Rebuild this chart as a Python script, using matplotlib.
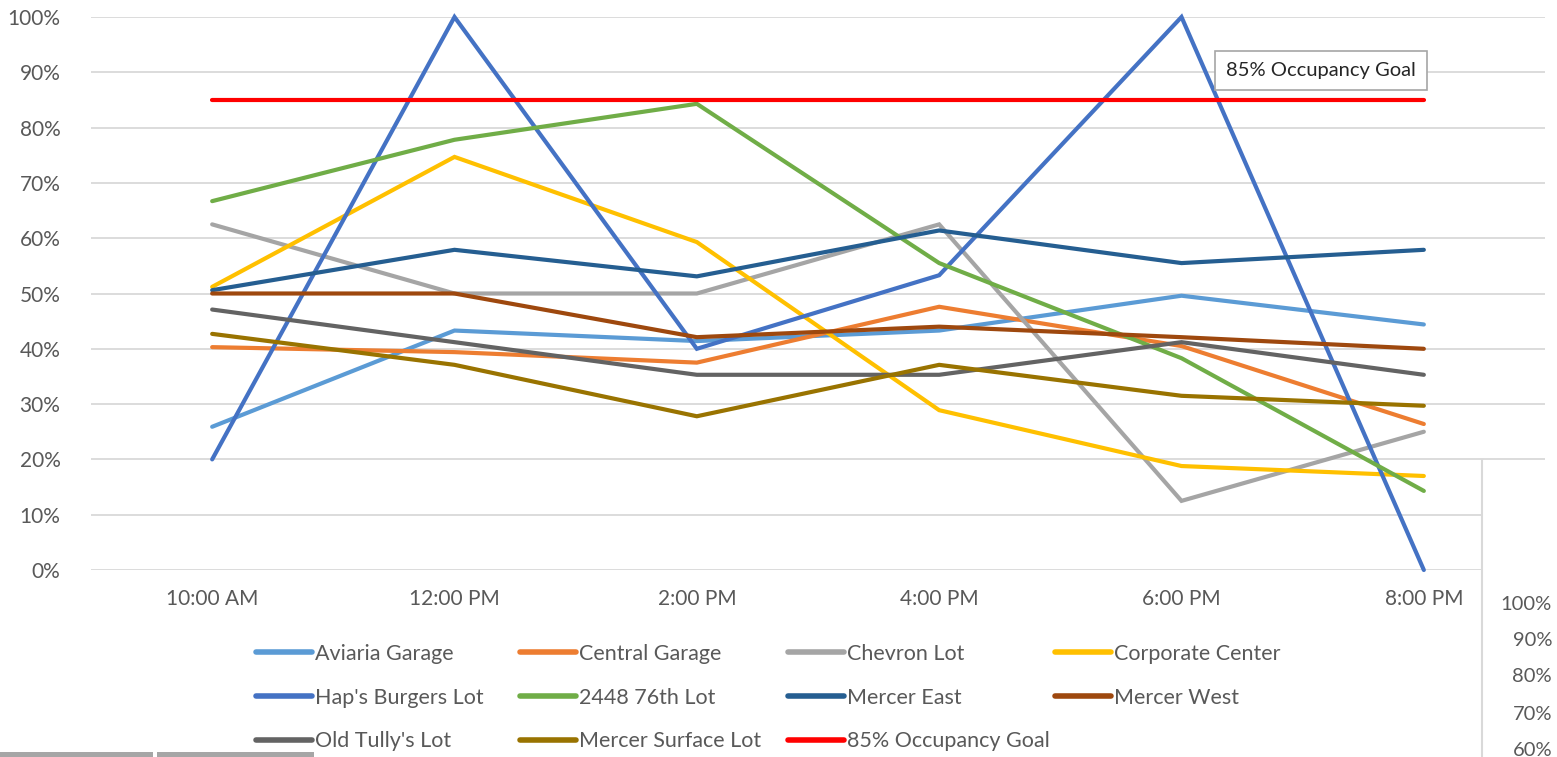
import matplotlib
matplotlib.use("Agg")
import matplotlib.pyplot as plt
from matplotlib.lines import Line2D
from matplotlib.patches import Rectangle
from matplotlib.ticker import PercentFormatter

plt.rcParams['font.family'] = ['Lato', 'DejaVu Sans']

# data
times = ["10:00 AM", "12:00 PM", "2:00 PM", "4:00 PM", "6:00 PM", "8:00 PM"]
aviaria = [0.259, 0.433, 0.414, 0.433, 0.496, 0.444]
central = [0.403, 0.394, 0.375, 0.476, 0.405, 0.264]
chevron = [0.625, 0.50, 0.50, 0.625, 0.125, 0.25]
corporate = [0.512, 0.747, 0.593, 0.289, 0.188, 0.170]
haps = [0.20, 1.00, 0.40, 0.533, 1.00, 0.0]
lot2448 = [0.667, 0.778, 0.843, 0.555, 0.383, 0.143]
mercer_east = [0.506, 0.579, 0.531, 0.614, 0.555, 0.579]
mercer_west = [0.50, 0.50, 0.421, 0.44, 0.421, 0.40]
old_tully = [0.471, 0.412, 0.353, 0.353, 0.412, 0.353]
mercer_surface = [0.427, 0.371, 0.278, 0.371, 0.315, 0.297]
goal = [0.85] * 6

series = [
    ("Aviaria Garage", aviaria, "#5B9BD5"),
    ("Central Garage", central, "#ED7D31"),
    ("Chevron Lot", chevron, "#A5A5A5"),
    ("Corporate Center", corporate, "#FFC000"),
    ("Hap's Burgers Lot", haps, "#4472C4"),
    ("2448 76th Lot", lot2448, "#70AD47"),
    ("Mercer East", mercer_east, "#255E91"),
    ("Mercer West", mercer_west, "#9E480E"),
    ("Old Tully's Lot", old_tully, "#636363"),
    ("Mercer Surface Lot", mercer_surface, "#997300"),
    ("85% Occupancy Goal", goal, "#FF0000"),
]

txt = "#595959"
W, H = 1557, 757
fig = plt.figure(figsize=(W / 100, H / 100), dpi=100)
ax = fig.add_axes([91 / W, 1 - 570 / H, (1545 - 91) / W, (570 - 17) / H])

x = list(range(len(times)))
handles = []
for name, vals, col in series:
    h, = ax.plot(x, vals, color=col, lw=3.0, solid_capstyle='round',
                 solid_joinstyle='miter', label=name)
    handles.append(h)

ax.set_xlim(-0.5, len(times) - 0.5)
ax.set_ylim(0, 1)
ax.set_yticks([i / 10 for i in range(11)])
ax.yaxis.set_major_formatter(PercentFormatter(1.0, decimals=0))
ax.set_xticks(x)
ax.set_xticklabels(times)
ax.grid(axis='y', color='#D9D9D9', lw=1.3)
ax.set_axisbelow(True)
for s in ax.spines.values():
    s.set_visible(False)
ax.tick_params(length=0, labelsize=15, colors=txt, pad=14)
ax.tick_params(axis='y', pad=22)
ax.patch.set_alpha(0)
for h in handles:
    h.set_clip_on(False)

# annotation box
ax.text(4.185, 0.904, "85% Occupancy Goal", fontsize=14.5, color='#262626',
        ha='left', va='center',
        bbox=dict(boxstyle='square,pad=0.55', fc='white', ec='#A6A6A6', lw=1.2))

# legend, laid out in 4 columns like the original
col_x = [256, 520, 788, 1055]
for c in range(4):
    idx = [c + 4 * r for r in range(3) if c + 4 * r < len(series)]
    hs = [Line2D([], [], color=series[i][2], lw=4.0, solid_capstyle='round') for i in idx]
    lb = [series[i][0] for i in idx]
    leg = fig.legend(hs, lb, loc='upper left',
                     bbox_to_anchor=(col_x[c] / W, 1 - 644 / H),
                     frameon=False, fontsize=15.5, handlelength=2.6,
                     handletextpad=0.12, labelspacing=1.1,
                     borderpad=0, borderaxespad=0)
    for t in leg.get_texts():
        t.set_color(txt)

# pieces of the overlapping chart visible at the edges
fig.add_artist(Rectangle((1482 / W, 0), (W - 1482) / W, 1 - 461 / H,
                         transform=fig.transFigure, fc='white', ec='none', zorder=5))
fig.add_artist(Line2D([1482 / W, 1482 / W], [0, 1 - 460 / H],
                      transform=fig.transFigure, color='#D9D9D9', lw=1.5, zorder=6))
for lab, yy in zip(["100%", "90%", "80%", "70%", "60%"], [604, 641, 677, 714, 751]):
    fig.text(1552 / W, 1 - yy / H, lab, ha='right', va='center',
             fontsize=14.5, color=txt, zorder=7)
fig.add_artist(Rectangle((0, 0), 153 / W, 5 / H, transform=fig.transFigure,
                         fc='#A6A6A6', ec='none', zorder=6))
fig.add_artist(Rectangle((157 / W, 0), (314 - 157) / W, 5 / H, transform=fig.transFigure,
                         fc='#A6A6A6', ec='none', zorder=6))

fig.savefig("out.png", dpi=100)
